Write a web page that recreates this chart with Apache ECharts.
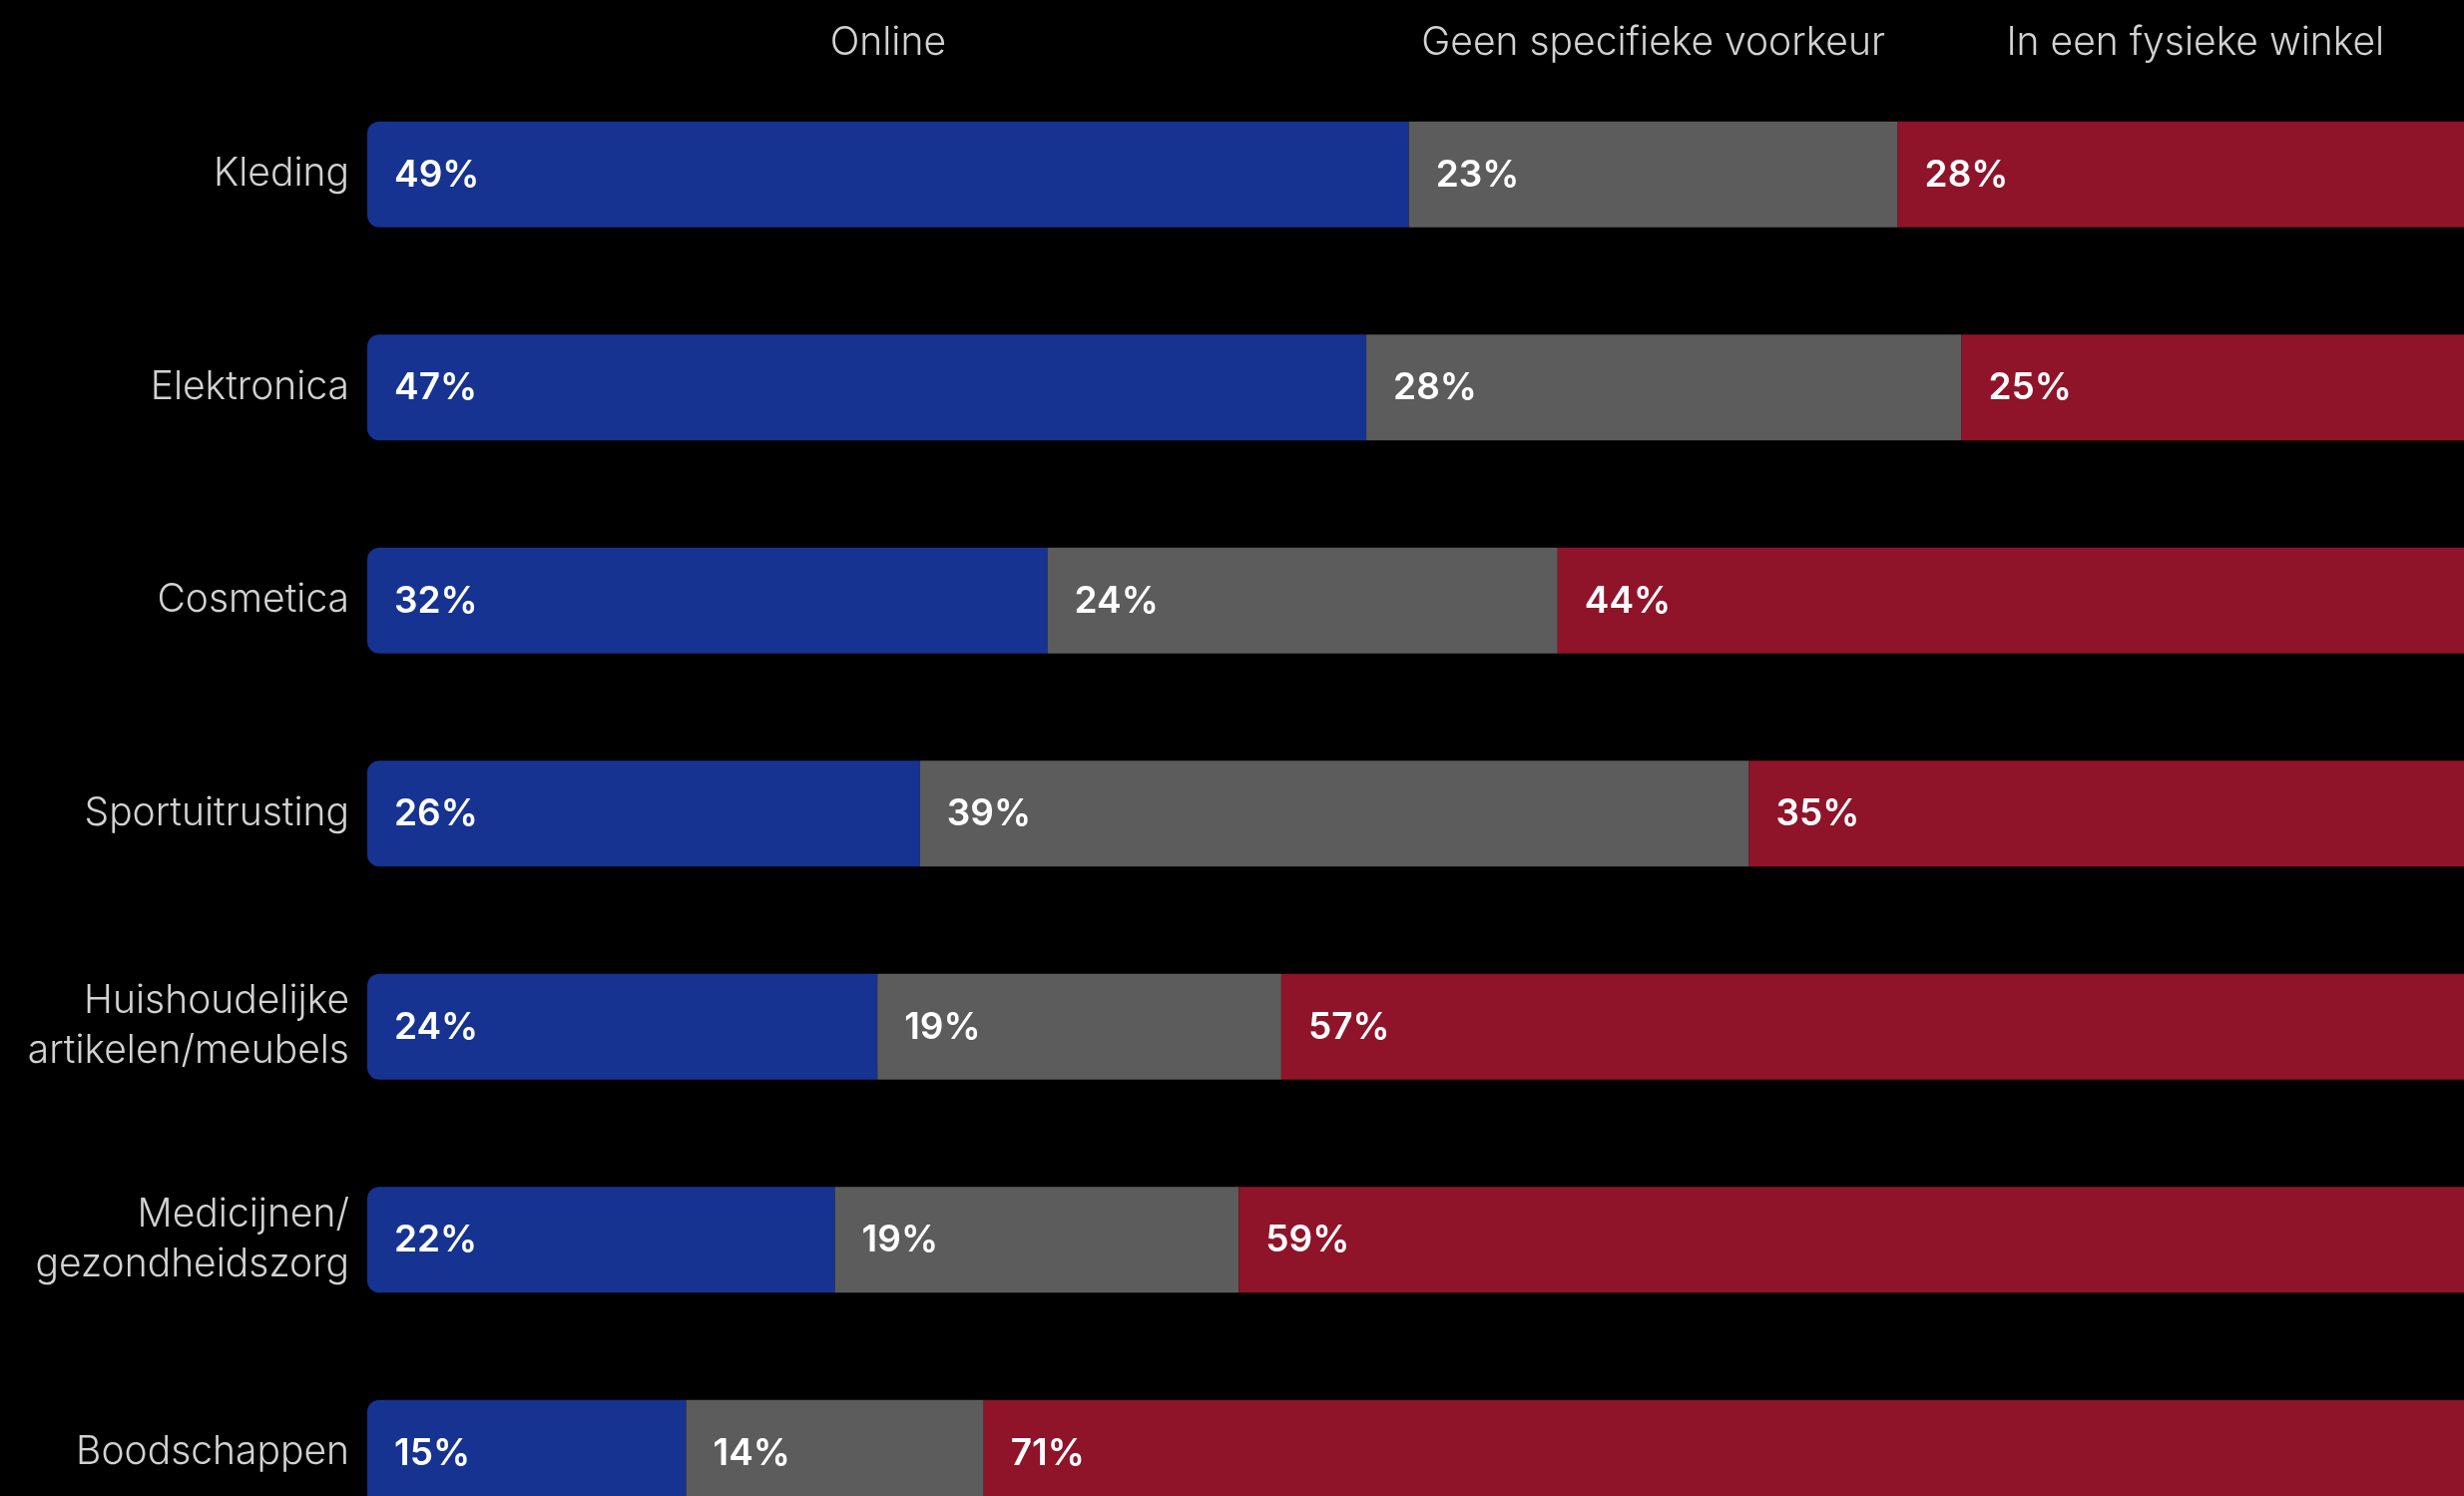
<!DOCTYPE html>
<html>
<head>
<meta charset="utf-8">
<script src="https://cdn.jsdelivr.net/npm/echarts@6/dist/echarts.min.js"></script>
<style>
  html, body { margin: 0; padding: 0; background: #000; }
  #chart { width: 2469px; height: 1499px; }
</style>
</head>
<body>
<div id="chart"></div>
<script>
// Voorkeur voor online of fysiek winkelen, per productcategorie (%)
const categories = [
  'Kleding',
  'Elektronica',
  'Cosmetica',
  'Sportuitrusting',
  'Huishoudelijke\nartikelen/meubels',
  'Medicijnen/\ngezondheidszorg',
  'Boodschappen'
];
const seriesNames = ['Online', 'Geen specifieke voorkeur', 'In een fysieke winkel'];
const online = [49, 47, 32, 26, 24, 22, 15];
const geenVoorkeur = [23, 28, 24, 39, 19, 19, 14];
const fysiek = [28, 25, 44, 35, 57, 59, 71];
const colors = ['#163391', '#5c5c5c', '#8f1429'];

const FONT = 'Inter, "Noto Sans", sans-serif';
const values = [online, geenVoorkeur, fysiek];

// Column headers sit above the first row, centred on each segment of that row
function headerCoord(i) {
  let start = 0;
  for (let k = 0; k < i; k++) start += values[k][0];
  return [start + values[i][0] / 2, categories[0]];
}

const series = values.map((vals, i) => ({
  name: seriesNames[i],
  type: 'bar',
  stack: 'totaal',
  data: vals,
  barWidth: 106,
  itemStyle: {
    color: colors[i],
    borderRadius: i === 0 ? [12, 0, 0, 12] : 0
  },
  label: {
    show: true,
    position: 'insideLeft',
    distance: 27,
    offset: [0, 1],
    formatter: '{c}%',
    color: '#ffffff',
    fontFamily: FONT,
    fontWeight: 600,
    fontSize: 37
  },
  markPoint: {
    silent: true,
    animation: false,
    symbol: 'rect',
    symbolSize: [1, 1],
    itemStyle: { color: 'rgba(0,0,0,0)' },
    label: {
      show: true,
      position: 'inside',
      offset: [0, -131],
      formatter: seriesNames[i],
      color: '#d2d2d2',
      fontFamily: FONT,
      fontWeight: 300,
      fontSize: 39
    },
    data: [{ coord: headerCoord(i) }]
  }
}));

const chart = echarts.init(document.getElementById('chart'), null, { renderer: 'canvas' });
chart.setOption({
  backgroundColor: '#000000',
  animation: false,
  // the plot runs past the right and bottom edges of the canvas
  grid: {
    left: 368, top: 68, width: 2130, height: 1494.5,
    containLabel: false,
    outerBoundsMode: 'none'
  },
  xAxis: {
    type: 'value',
    min: 0,
    max: 100,
    show: false
  },
  yAxis: {
    type: 'category',
    data: categories,
    inverse: true,
    axisLine: { show: false },
    axisTick: { show: false },
    splitLine: { show: false },
    axisLabel: {
      margin: 18,
      color: '#d2d2d2',
      fontFamily: FONT,
      fontWeight: 300,
      fontSize: 39,
      lineHeight: 50
    }
  },
  series: series
});
</script>
</body>
</html>
